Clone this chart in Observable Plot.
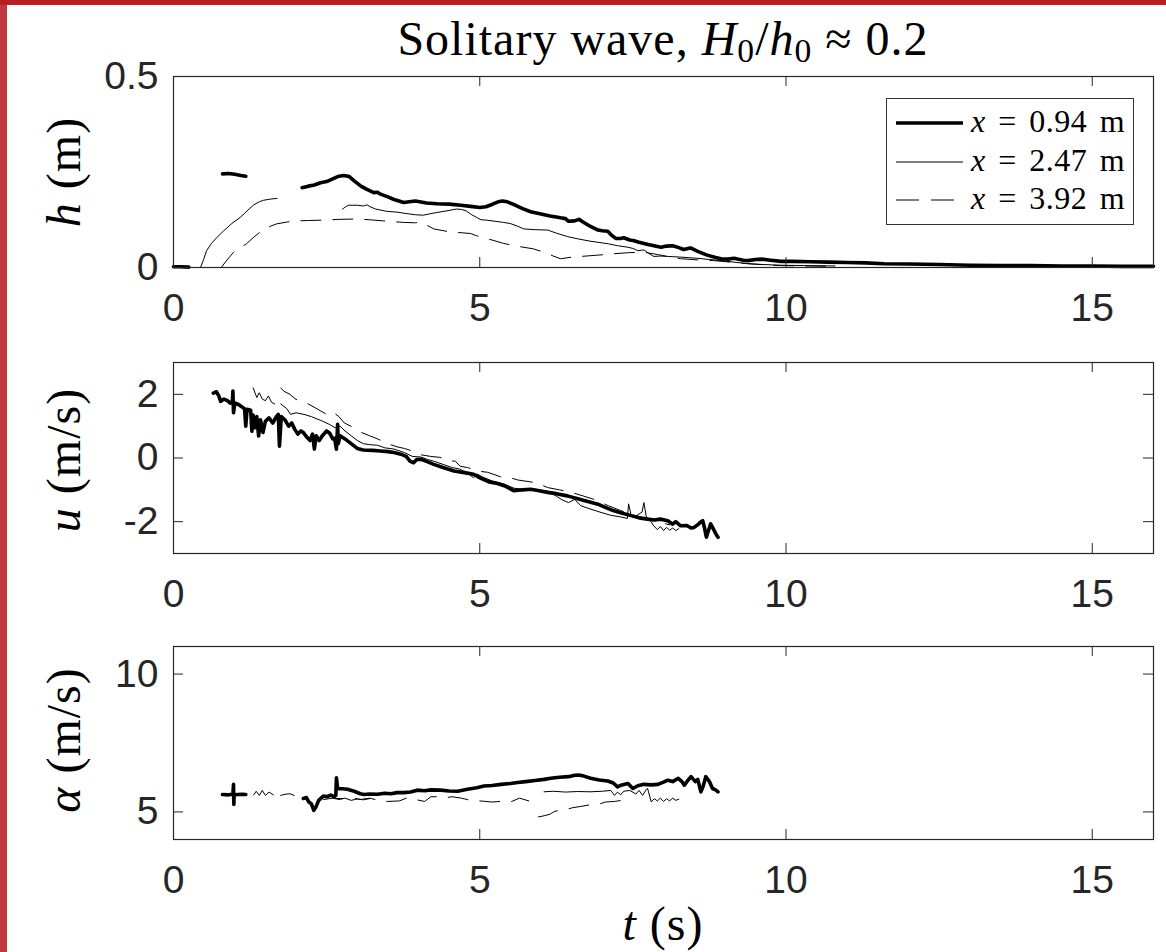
<!DOCTYPE html>
<html><head><meta charset="utf-8">
<script src="https://cdn.jsdelivr.net/npm/d3@7"></script>
<script src="https://cdn.jsdelivr.net/npm/@observablehq/plot@0.6"></script>
<style>
body{margin:0;background:#fff;}
#root{position:relative;width:1166px;height:952px;overflow:hidden;background:#fff;}
.tex{position:absolute;font-family:"Liberation Serif","Times New Roman",serif;color:#000;line-height:1;white-space:nowrap;letter-spacing:1px;}
.panel{position:absolute;left:0;}
sub{font-size:0.7em;vertical-align:-0.22em;line-height:0;}
</style></head><body><div id="root"></div>
<script>
// ---------- axes ----------
const xTicks = [0, 5, 10, 15];
const hTicks = [0, 0.5];
const uTicks = [-2, 0, 2];
const aTicks = [5, 10];
const gaugeLabels = ["0.94", "2.47", "3.92"];

// ---------- h(t) ----------
const h094_t = [0,0.1,0.25, null, 0.8,0.9,1.0,1.1,1.18, null,
 2.1,2.2,2.3,2.4,2.5,2.6,2.7,2.78,2.87,2.95,3.06,3.15,3.27,3.33,3.38,3.5,3.6,3.76,3.85,3.95,4.13,4.3,4.5,4.69,4.85,5.0,5.1,5.2,5.3,5.37,5.45,5.55,5.7,5.83,6.0,6.15,6.32,6.4,6.45,6.55,6.62,6.7,6.8,6.93,7.0,7.09,7.15,7.22,7.3,7.35,7.45,7.52,7.6,7.75,7.9,7.96,8.05,8.15,8.25,8.33,8.4,8.45,8.55,8.7,8.85,8.94,9.05,9.15,9.3,9.38,9.5,9.6,9.75,9.92,10.1,10.4,10.7,11.0,11.3,11.6,12.0,12.5,13.0,13.5,14.0,14.5,15.0,15.5,16.0];
const h094_v = [0.002,0.002,0.001, null, 0.245,0.246,0.244,0.241,0.239, null,
 0.209,0.213,0.216,0.222,0.225,0.232,0.239,0.241,0.238,0.227,0.213,0.205,0.196,0.197,0.192,0.185,0.178,0.170,0.172,0.174,0.169,0.167,0.166,0.163,0.160,0.157,0.159,0.165,0.172,0.174,0.172,0.165,0.154,0.146,0.140,0.135,0.130,0.128,0.121,0.122,0.126,0.118,0.108,0.098,0.096,0.095,0.085,0.076,0.076,0.078,0.072,0.070,0.066,0.060,0.055,0.053,0.056,0.057,0.052,0.047,0.050,0.051,0.043,0.033,0.026,0.023,0.022,0.024,0.019,0.018,0.021,0.022,0.019,0.016,0.016,0.015,0.014,0.013,0.012,0.010,0.009,0.008,0.006,0.005,0.005,0.004,0.004,0.003,0.003];

const h247_t = [0.44,0.49,0.54,0.62,0.71,0.82,0.95,1.09,1.2,1.31,1.4,1.47,1.58,1.69, null,
 2.76,2.82,2.86,3.0,3.1,3.16,3.21,3.3,3.48,3.65,3.81,3.95,4.08,4.2,4.3,4.45,4.62,4.7,4.78,4.87,4.95,5.02,5.11,5.25,5.39,5.5,5.62,5.72,5.9,6.11,6.25,6.43,6.6,6.8,6.93,7.1,7.25,7.42,7.5,7.58,7.68,7.75,7.84,7.95,8.07,8.3,8.56,8.75,8.94,9.15,9.38,9.6,9.9,10.3,10.8];
const h247_v = [0,0.02,0.044,0.063,0.079,0.096,0.115,0.131,0.148,0.164,0.172,0.176,0.179,0.181, null,
 0.153,0.160,0.163,0.163,0.161,0.164,0.159,0.153,0.147,0.145,0.141,0.138,0.137,0.141,0.144,0.148,0.153,0.152,0.148,0.138,0.131,0.125,0.124,0.121,0.118,0.115,0.108,0.101,0.099,0.098,0.090,0.081,0.075,0.069,0.066,0.062,0.057,0.053,0.050,0.044,0.046,0.038,0.029,0.030,0.029,0.027,0.024,0.021,0.018,0.014,0.010,0.008,0.006,0.005,0.004];

const h392_t = [0.78,0.85,0.98,1.08,1.19,1.3,1.44,1.55,1.68,1.85,2.01,2.2,2.45,2.7,2.99,3.2,3.43,3.6,3.76,3.95,4.05,4.12,4.25,4.45,4.62,4.85,4.95,5.07,5.2,5.39,5.6,5.87,6.05,6.2,6.32,6.5,6.65,6.9,7.19,7.45,7.68,7.9,8.1,8.28,8.55,8.82,9.1,9.38,9.65,9.92,10.3,10.8];
const h392_v = [0,0.015,0.040,0.050,0.062,0.078,0.096,0.106,0.114,0.119,0.122,0.123,0.124,0.126,0.127,0.125,0.122,0.120,0.118,0.117,0.119,0.112,0.101,0.095,0.092,0.089,0.083,0.077,0.072,0.063,0.056,0.049,0.040,0.030,0.023,0.027,0.029,0.032,0.036,0.039,0.040,0.034,0.028,0.023,0.020,0.018,0.014,0.010,0.007,0.005,0.004,0.003];

// ---------- u(t) ----------
const u094_t = [0.65,0.7,0.74,0.77,0.82,0.88,0.93,0.96,0.97,0.98,1.0,1.06,1.12,1.16,1.18,1.2,1.26,1.28,1.3,1.33,1.36,1.39,1.42,1.46,1.5,1.56,1.62,1.68,1.71,1.73,1.76,1.82,1.88,1.93,1.98,2.03,2.08,2.12,2.18,2.23,2.27,2.3,2.33,2.38,2.43,2.5,2.55,2.6,2.63,2.66,2.68,2.69,2.72,2.8,2.9,3.0,3.1,3.25,3.38,3.5,3.6,3.71,3.8,3.86,3.92,3.97,4.04,4.12,4.25,4.4,4.58,4.75,4.9,5.02,5.15,5.29,5.4,5.56,5.7,5.83,5.95,6.11,6.25,6.43,6.6,6.75,6.93,7.05,7.19,7.3,7.47,7.6,7.74,7.85,7.95,8.07,8.15,8.2,8.28,8.38,8.45,8.5,8.57,8.6,8.64,8.67,8.7,8.73,8.77,8.82,8.86,8.89];
const u094_v = [2.04,2.08,1.95,1.78,1.85,1.8,1.72,1.75,2.1,1.42,1.73,1.68,1.6,1.55,1.0,1.53,1.5,0.84,1.35,0.95,1.3,0.69,1.2,0.8,1.15,1.26,1.1,1.3,1.37,0.37,1.3,1.2,1.0,1.1,0.9,0.75,0.85,0.8,0.65,0.55,0.75,0.28,0.7,0.55,0.7,0.85,0.78,0.6,0.62,0.28,1.06,0.45,0.7,0.6,0.45,0.3,0.25,0.24,0.22,0.2,0.17,0.12,0.05,-0.1,-0.15,-0.05,-0.04,-0.1,-0.2,-0.3,-0.41,-0.46,-0.51,-0.64,-0.75,-0.8,-0.87,-1.03,-1.0,-0.98,-1.02,-1.08,-1.12,-1.19,-1.28,-1.36,-1.45,-1.55,-1.66,-1.72,-1.81,-1.88,-1.92,-1.95,-1.92,-1.97,-2.08,-2.0,-2.13,-2.12,-2.2,-2.18,-2.08,-2.02,-1.97,-2.2,-2.49,-2.3,-2.07,-2.25,-2.4,-2.49];

const u247_t = [1.3,1.36,1.4,1.45,1.5,1.55,1.6,1.65, null, 1.75,1.85,1.91,2.0,2.13,2.25,2.43,2.55,2.64,2.72,2.8,2.9,3.0,3.1,3.2,3.33,3.45,3.6,3.77,3.9,4.04,4.15,4.25,4.4,4.55,4.68,4.8,4.9,4.95,5.05,5.2,5.4,5.56,5.7,5.85,6.0,6.11,6.25,6.35,6.45,6.55,6.65,6.8,6.98,7.14,7.3,7.41,7.43,7.47,7.55,7.65,7.68,7.72,7.78,7.84,7.9,7.95,8.0,8.05,8.1,8.15,8.2,8.25];
const u247_v = [2.2,1.9,2.05,1.85,1.8,1.95,1.75,1.7, null, 1.7,1.55,1.37,1.42,1.37,1.3,1.16,1.05,0.95,1.0,0.85,0.7,0.55,0.45,0.42,0.4,0.32,0.28,0.17,0.05,0.03,-0.05,-0.1,-0.2,-0.3,-0.35,-0.48,-0.62,-0.5,-0.6,-0.72,-0.82,-0.95,-0.98,-0.96,-1.02,-1.04,-1.2,-1.32,-1.4,-1.3,-1.5,-1.6,-1.71,-1.8,-1.85,-1.9,-1.44,-1.78,-1.82,-1.7,-1.4,-1.86,-1.95,-2.13,-2.25,-2.15,-2.28,-2.18,-2.27,-2.2,-2.28,-2.22];

const u392_t = [1.75,1.8,1.9,2.0,2.15,2.32,2.5,2.6,2.7,2.79,2.95,3.07,3.2,3.33,3.5,3.65,3.77,3.9,4.04,4.2,4.35,4.47,4.6,4.68,4.8,4.97,5.13,5.34,5.5,5.62,5.83,5.95,6.11,6.3,6.5,6.7,6.9,7.1,7.3,7.5,7.7,7.9,8.1];
const u392_v = [2.2,2.1,2.0,1.84,1.75,1.57,1.37,1.45,1.3,1.1,0.95,0.8,0.7,0.6,0.45,0.35,0.3,0.22,0.1,0.05,0.02,-0.08,-0.1,-0.26,-0.3,-0.41,-0.45,-0.59,-0.62,-0.69,-0.75,-0.8,-0.93,-1.0,-1.08,-1.2,-1.32,-1.5,-1.65,-1.78,-1.9,-2.0,-2.1];

// ---------- alpha(t) ----------
const a094_t = [0.8,0.9,0.97,0.98,0.985,0.99,1.05,1.12,1.18, null,
 2.12,2.17,2.21,2.25,2.29,2.33,2.37,2.45,2.5,2.57,2.62,2.65,2.66,2.68,2.76,2.84,2.95,3.05,3.11,3.2,3.33,3.45,3.55,3.65,3.76,3.87,3.98,4.1,4.2,4.36,4.5,4.64,4.8,4.95,5.07,5.2,5.35,5.5,5.62,5.75,5.9,6.05,6.16,6.3,6.45,6.55,6.62,6.7,6.81,6.95,7.09,7.18,7.25,7.32,7.42,7.5,7.58,7.68,7.8,7.91,8.0,8.07,8.15,8.24,8.3,8.34,8.4,8.45,8.52,8.56,8.61,8.65,8.69,8.75,8.8,8.85,8.89];
const a094_v = [5.63,5.62,5.64,6.0,5.27,5.62,5.63,5.64,5.63, null,
 5.49,5.52,5.36,5.3,5.06,5.2,5.42,5.58,5.55,5.61,5.55,5.6,6.24,5.85,5.84,5.82,5.75,5.66,5.63,5.65,5.64,5.68,5.66,5.7,5.7,5.72,5.79,5.77,5.8,5.79,5.76,5.75,5.82,5.88,5.94,5.96,6.0,6.03,6.07,6.1,6.14,6.18,6.22,6.26,6.28,6.33,6.34,6.3,6.22,6.16,6.12,6.05,5.91,5.98,6.03,5.85,5.95,6.0,5.98,6.0,6.08,6.15,6.1,6.22,6.1,5.97,6.15,6.28,6.1,6.18,5.73,5.95,6.28,6.1,5.85,5.8,5.73];

const a247_t = [1.31,1.35,1.4,1.45,1.5,1.56,1.63, null, 1.75,1.82,1.9,1.97, null,
 2.6,2.7,2.8,2.9,3.0,3.1,3.2, null,
 6.05,6.2,6.4,6.6,6.8,7.0,7.14,7.2,7.25,7.3,7.35,7.45,7.55,7.6,7.66,7.72,7.74,7.8,7.85,7.9,7.95,8.0,8.05,8.1,8.15,8.2,8.25];
const a247_v = [5.62,5.75,5.6,5.78,5.6,5.72,5.62, null, 5.6,5.64,5.66,5.6, null,
 5.5,5.45,5.5,5.42,5.47,5.44,5.48, null,
 5.73,5.75,5.72,5.74,5.73,5.75,5.78,5.6,5.72,5.62,5.75,5.78,5.65,5.78,5.6,5.82,5.85,5.36,5.48,5.4,5.5,5.38,5.48,5.4,5.5,5.42,5.46];

const a392_t = [2.45,2.6,2.75,2.9,3.05,3.2,3.35,3.5,3.69,3.8,3.95,4.1,4.2,4.32,4.45,4.55,4.7,4.85,5.0,5.2,5.35,5.5,5.65,5.8, null,
 5.96,6.05,6.15,6.23,6.35,6.51,6.65,6.83,6.95,7.05,7.2,7.32];
const a392_v = [5.45,5.5,5.48,5.52,5.45,5.5,5.42,5.38,5.4,5.5,5.45,5.38,5.55,5.55,5.52,5.55,5.5,5.42,5.4,5.36,5.38,5.36,5.5,5.4, null,
 4.82,4.86,4.92,5.03,5.05,5.15,5.2,5.27,5.28,5.36,5.38,5.42];

// ---------- build ----------
const zip = (ts, vs) => ts.map((t, i) => ({t, v: vs[i]}));
const root = document.getElementById("root");
const ink = "#262626";

function panel({top, ph, domain, ticks, s1, s2, s3}) {
  const W = 1166, mL = 173, mR = 13, mT = 76, mB = 80;
  const pw = W - mL - mR;
  const svg = Plot.plot({
    width: W, height: mT + ph + mB,
    marginTop: mT, marginBottom: mB, marginLeft: mL, marginRight: mR,
    x: {domain: [0, 16]},
    y: {domain},
    style: {background: "transparent", overflow: "visible", fontFamily: "'Liberation Sans', Arial, sans-serif", fontSize: "39px", color: ink},
    marks: [
      Plot.line(s1, {x: "t", y: "v", stroke: "#000", strokeWidth: 3.6, strokeLinejoin: "round", strokeLinecap: "round"}),
      Plot.line(s2, {x: "t", y: "v", stroke: "#000", strokeWidth: 1, strokeLinejoin: "round"}),
      Plot.line(s3, {x: "t", y: "v", stroke: "#000", strokeWidth: 1, strokeDasharray: "20,12", strokeLinejoin: "round"}),
      Plot.frame({stroke: ink, strokeWidth: 1.2}),
      Plot.tickX(xTicks, {x: d => d, insetTop: ph - 10, stroke: ink, strokeWidth: 1}),
      Plot.tickX(xTicks, {x: d => d, insetBottom: ph - 10, stroke: ink, strokeWidth: 1}),
      Plot.tickY(ticks, {y: d => d, insetRight: pw - 10, stroke: ink, strokeWidth: 1}),
      Plot.tickY(ticks, {y: d => d, insetLeft: pw - 10, stroke: ink, strokeWidth: 1}),
      Plot.axisX(xTicks, {tickSize: 0, tickPadding: 26, label: null, tickFormat: d => String(d)}),
      Plot.axisY(ticks, {tickSize: 0, tickPadding: 15, label: null, tickFormat: d => String(d)})
    ]
  });
  svg.classList.add("panel");
  svg.style.top = (top - mT) + "px";
  root.appendChild(svg);
}

panel({top: 76, ph: 191, domain: [0, 0.5], ticks: hTicks,
  s1: zip(h094_t, h094_v), s2: zip(h247_t, h247_v), s3: zip(h392_t, h392_v)});
panel({top: 362, ph: 191, domain: [-3, 3], ticks: uTicks,
  s1: zip(u094_t, u094_v), s2: zip(u247_t, u247_v), s3: zip(u392_t, u392_v)});
panel({top: 646, ph: 193, domain: [4, 11], ticks: aTicks,
  s1: zip(a094_t, a094_v), s2: zip(a247_t, a247_v), s3: zip(a392_t, a392_v)});

// ---------- text ----------
function addText(html, css) {
  const d = document.createElement("div");
  d.className = "tex";
  d.innerHTML = html;
  Object.assign(d.style, css);
  root.appendChild(d);
  return d;
}
const FS = 48;
// title
addText('Solitary wave, <i>H</i><sub>0</sub>/<i>h</i><sub>0</sub> &#8776; 0.2',
  {left: "363px", width: "600px", textAlign: "center", top: "15px", fontSize: FS + "px"});
// y labels
function yLabel(html, cy) {
  addText(html, {left: (64 - 150) + "px", top: (cy - FS / 2) + "px", width: "300px", height: FS + "px",
    fontSize: FS + "px", transform: "rotate(-90deg)", textAlign: "center"});
}
yLabel('<i>h</i> (m)', 172);
yLabel('<i>u</i> (m/s)', 460);
yLabel('<i>&#945;</i> (m/s)', 740);
// x label
addText('<i>t</i> (s)', {left: "513px", width: "300px", textAlign: "center", top: "900px", fontSize: FS + "px"});

// legend
const leg = document.createElement("div");
Object.assign(leg.style, {position: "absolute", left: "886px", top: "98px", width: "246px", height: "125px",
  border: "1px solid #333", background: "#fff"});
root.appendChild(leg);
const ls = d3.create("svg").attr("width", 246).attr("height", 125)
  .style("position", "absolute").style("left", "0").style("top", "0");
const rowsY = [24, 63, 101];
const styles = [{w: 3.6, dash: null}, {w: 1, dash: null}, {w: 1, dash: "23,12"}];
gaugeLabels.forEach((g, i) => {
  const l = ls.append("line").attr("x1", 9).attr("x2", 76).attr("y1", rowsY[i]).attr("y2", rowsY[i])
    .attr("stroke", "#000").attr("stroke-width", styles[i].w);
  if (styles[i].dash) l.attr("stroke-dasharray", styles[i].dash);
});
leg.appendChild(ls.node());
gaugeLabels.forEach((g, i) => {
  const t = document.createElement("div");
  t.className = "tex";
  t.innerHTML = '<i>x</i> = ' + g + ' m';
  Object.assign(t.style, {left: "84px", top: (rowsY[i] + 9 - 27) + "px", fontSize: "32px", wordSpacing: "4px", letterSpacing: "0.5px"});
  leg.appendChild(t);
});

// frame of the picture
const bl = document.createElement("div");
Object.assign(bl.style, {position: "absolute", left: "0", top: "0", width: "7px", height: "952px", background: "#bf3a3e"});
root.appendChild(bl);
const bt = document.createElement("div");
Object.assign(bt.style, {position: "absolute", left: "0", top: "0", width: "1166px", height: "5px", background: "#b92026"});
root.appendChild(bt);
</script></body></html>
